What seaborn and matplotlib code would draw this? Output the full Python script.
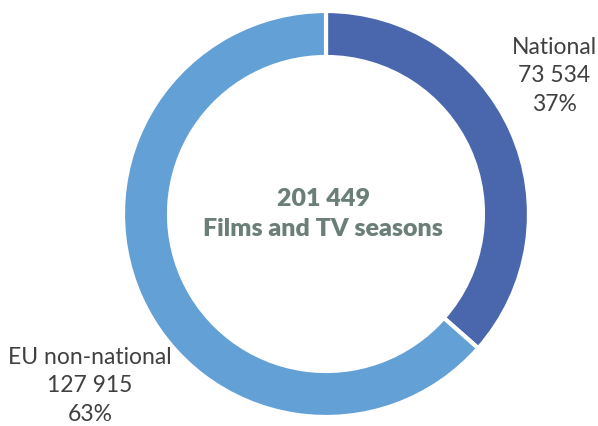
import numpy as np
import matplotlib
matplotlib.use("Agg")
import matplotlib.pyplot as plt
import seaborn as sns

sns.set_style("white")
plt.rcParams['font.family'] = ['Lato', 'DejaVu Sans']

categories = ["National", "EU non-national"]
values = [73534, 127915]
shares = ["37%", "63%"]
total_label = "201 449"
center_label = "Films and TV seasons"
colors = ["#4a67ae", "#62a0d5"]

fig = plt.figure(figsize=(5.98, 4.27), dpi=100)
ax = fig.add_axes([0, 0, 1, 1])
ax.pie(values, colors=colors, startangle=90, counterclock=False,
       center=(326, 212), radius=203,
       wedgeprops=dict(width=46, edgecolor="white", linewidth=3))
ax.set_xlim(0, 598)
ax.set_ylim(0, 427)
ax.set_aspect("equal")
ax.axis("off")

def fmt(v):
    return f"{v:,}".replace(",", " ")

txt = "#404040"
ax.text(554, 351, f"{categories[0]}\n{fmt(values[0])}\n{shares[0]}",
        ha="center", va="center", fontsize=16.5, color=txt, linespacing=1.45)
ax.text(90, 41, f"{categories[1]}\n{fmt(values[1])}\n{shares[1]}",
        ha="center", va="center", fontsize=16.5, color=txt, linespacing=1.45)
ax.text(323, 213, f"{total_label}\n{center_label}", ha="center", va="center",
        fontsize=18, fontweight="heavy", color="#6b7f78", linespacing=1.45)

fig.savefig("out.png", dpi=100)
